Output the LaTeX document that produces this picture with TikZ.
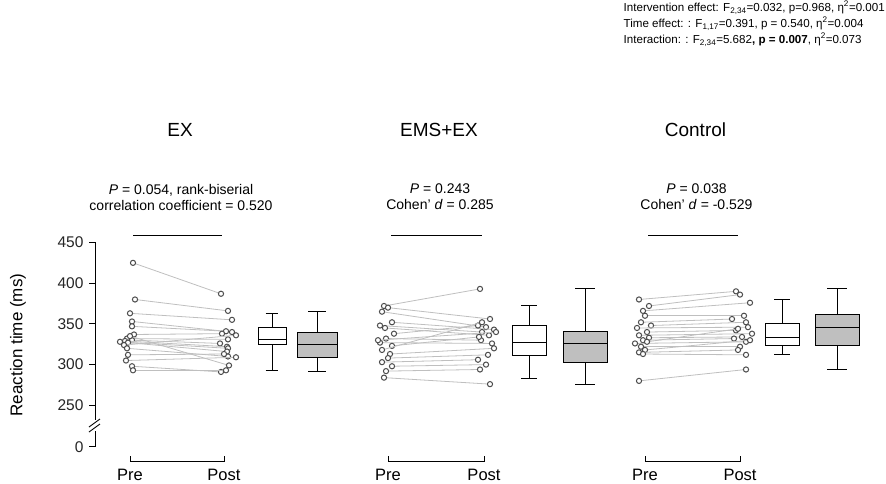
\documentclass[tikz,border=0pt]{standalone}
\usepackage{fontspec}
\setmainfont{Liberation Sans}
\begin{document}
\begin{tikzpicture}[x=1pt,y=-1pt,
 declare function={ry(\v)=608.8-0.814*\v;},
 pt/.style={draw=black!70,line width=1pt,fill=white},
 pair/.style={draw=black!25,line width=0.8pt},
 ax/.style={line width=0.9pt},
 bx/.style={line width=1pt}]
\useasboundingbox (0,0) rectangle (886,484);
\node[anchor=north east,align=left,font=\fontsize{11.6}{16}\selectfont,inner sep=0] (stats) at (885,1)
 {Intervention effect: F\textsubscript{2,34}=0.032, p=0.968, η\textsuperscript{2}=0.001\\
  Time effect: : F\textsubscript{1,17}=0.391, p = 0.540, η\textsuperscript{2}=0.004\\
  Interaction: : F\textsubscript{2,34}=5.682\textbf{, p = 0.007}, η\textsuperscript{2}=0.073};
\draw[ax] (95,242) -- (95,420);
\draw[ax] (95,431) -- (95,447);
\draw[ax] (89,427) -- (100,419);
\draw[ax] (89,432) -- (100,424);
\foreach \v in {250,300,...,450}{
 \draw[ax] (89,{ry(\v)}) -- (95,{ry(\v)});
 \node[anchor=east,font=\fontsize{15.5}{15}\selectfont,text=black!85] at (87,{ry(\v)}) {\v};}
\draw[ax] (89,446.7) -- (95,446.7);
\node[anchor=east,font=\fontsize{15.5}{15}\selectfont,text=black!85] at (87,446.7) {0};
\node[rotate=90,font=\fontsize{17}{17}\selectfont] (ylab) at (18,345) {Reaction time (ms)};
\newcommand\mybox[7]{%
 \draw[bx] (#1,{ry(#3)}) -- (#1,{ry(#4)}) (#1,{ry(#6)}) -- (#1,{ry(#7)});
 \draw[bx] ({#1-#2*0.45},{ry(#3)}) -- ({#1+#2*0.45},{ry(#3)});
 \draw[bx] ({#1-#2*0.45},{ry(#7)}) -- ({#1+#2*0.45},{ry(#7)});}
\newcommand\boxbody[6]{%
 \draw[bx,fill=#6] ({#1-#2},{ry(#3)}) rectangle ({#1+#2},{ry(#5)});
 \draw[bx] ({#1-#2},{ry(#4)}) -- ({#1+#2},{ry(#4)});}
\foreach \px/\qx/\ttl/\ann in {
 130/224/EX/{\textit{P} = 0.054, rank-biserial\\correlation coefficient = 0.520},
 388/484/EMS+EX/{\textit{P} = 0.243\\Cohen’ \textit{d} = 0.285},
 645/740/Control/{\textit{P} = 0.038\\Cohen’ \textit{d} = -0.529}}{
 \node[font=\fontsize{19}{19}\selectfont] at ({(\px+\qx)/2+3},130) {\ttl};
 \node[align=center,font=\fontsize{14}{16}\selectfont] at ({(\px+\qx)/2+4},197) {\ann};
 \draw[line width=0.9pt] ({\px+3},235) -- ({\qx-2},235);
 \draw[ax] (\px,456) -- (\px,461) -- (\qx,461) -- (\qx,456);
 \node[font=\fontsize{16.5}{16}\selectfont] at (\px,475) {Pre};
 \node[font=\fontsize{16.5}{16}\selectfont] at (\qx,475) {Post};
}
\foreach \a/\b/\ja/\jb in {425/387/3/-3,380/366/5/4,363/355/0/8,353/340/2/8,347/341/2/2,337/338/4/-2,332/331/-3/4,330/326/2/-4,329/322/-5/3,328/320/-10/4,327/316/-2/3,324/336/-6/12,320/310/-3/4,312/313/-2/0,305/309/-4/12,298/291/2/-3,293/293/3/2,335/299/0/5}{
 \draw[pair] ({130+\ja},{ry(\a)}) -- ({224+\jb},{ry(\b)});
 \draw[pt] ({130+\ja},{ry(\a)}) circle (2.6);
 \draw[pt] ({224+\jb},{ry(\b)}) circle (2.6);}
\foreach \a/\b/\ja/\jb in {372/393/-4/-4,370/356/0/6,365/346/-6/2,352/343/4/10,348/340/-8/-2,345/336/-3/5,338/348/6/-6,332/330/-2/-3,327/326/-8/8,323/334/4/-5,318/352/-6/-2,313/320/2/10,308/312/0/4,303/306/-6/-6,298/300/4/2,292/294/-2/-4,284/276/-4/6,330/340/-10/12}{
 \draw[pair] ({388+\ja},{ry(\a)}) -- ({484+\jb},{ry(\b)});
 \draw[pt] ({388+\ja},{ry(\a)}) circle (2.6);
 \draw[pt] ({484+\jb},{ry(\b)}) circle (2.6);}
\foreach \a/\b/\ja/\jb in {380/390/-6/-4,372/386/4/0,366/376/-2/10,360/360/0/4,352/356/-4/-8,348/352/6/6,345/346/-8/8,340/342/2/-4,336/338/-6/12,333/334/4/2,330/332/-2/-6,326/328/-10/6,322/322/-4/0,318/330/0/10,315/318/-6/-2,313/312/-2/6,280/294/-6/6,328/344/2/-2}{
 \draw[pair] ({645+\ja},{ry(\a)}) -- ({740+\jb},{ry(\b)});
 \draw[pt] ({645+\ja},{ry(\a)}) circle (2.6);
 \draw[pt] ({740+\jb},{ry(\b)}) circle (2.6);}
\mybox{272}{14}{293}{325}{331}{345}{363}\boxbody{272}{14}{325}{331}{345}{white}
\mybox{317}{20}{291}{309}{325}{339}{365}\boxbody{317}{20}{309}{325}{339}{black!25}
\mybox{529}{17}{283}{311}{327}{348}{372}\boxbody{529}{17}{311}{327}{348}{white}
\mybox{585}{22}{276}{303}{326}{341}{393}\boxbody{585}{22}{303}{326}{341}{black!25}
\mybox{782}{17}{313}{323}{333}{350}{380}\boxbody{782}{17}{323}{333}{350}{white}
\mybox{837}{22}{294}{324}{346}{361}{393}\boxbody{837}{22}{324}{346}{361}{black!25}
\end{tikzpicture}
\end{document}
